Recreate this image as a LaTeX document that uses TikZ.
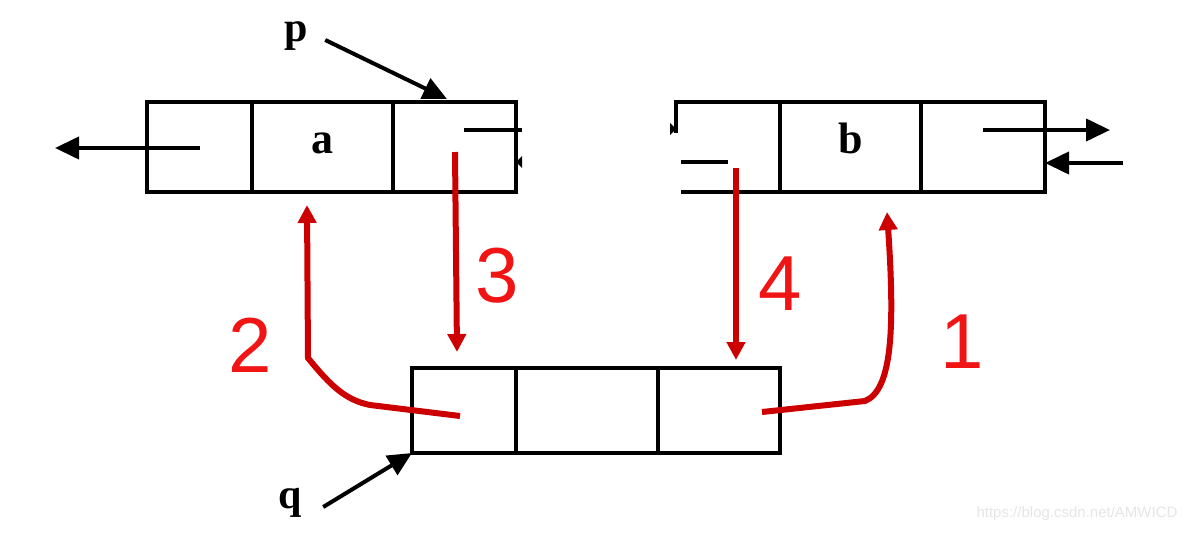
\documentclass[tikz,border=0pt]{standalone}
\usepackage{fontspec}
\setmainfont{Liberation Serif}
\newfontfamily\numfont{Liberation Sans}
\usepackage{xcolor}
\usetikzlibrary{positioning,arrows.meta}
\definecolor{linkred}{RGB}{204,0,0}
\definecolor{numred}{RGB}{240,20,20}

\begin{document}
\begin{tikzpicture}[x=1pt,y=-1pt,
    cell/.style={draw,line width=4pt,minimum height=90pt,inner sep=0pt,outer sep=0pt,
      text height=12pt,text depth=0pt,font=\bfseries\fontsize{44}{44}\selectfont},
    ptr/.style={line width=4pt,-{Triangle[length=24pt,width=22pt]}},
    relink/.style={draw=linkred,line width=6pt,-{Triangle[length=18pt,width=18pt]}},
    stepno/.style={text=numred,font=\numfont\fontsize{78}{78}\selectfont},
    ptrname/.style={font=\bfseries\fontsize{42}{42}\selectfont}]
    \useasboundingbox (0,0) rectangle (1192,533);
    % node holding a
    \node[cell,minimum width=105pt] (l1) at (199.5,147) {};
    \node[cell,minimum width=141pt] (l2) [right=0pt of l1] {a};
    \node[cell,minimum width=123pt] (l3) [right=0pt of l2] {};
    % node holding b, its left side partly gone
    \node[cell,draw=none,minimum width=104pt] (r1) at (728,147) {};
    \node[cell,minimum width=141pt] (r2) [right=0pt of r1] {b};
    \node[cell,minimum width=124pt] (r3) [right=0pt of r2] {};
    \draw[line width=4pt] ([yshift=-31pt]r1.north west) -- (r1.north west) -- (r1.north east);
    \draw[line width=4pt] ([xshift=5pt]r1.south west) -- (r1.south east);
    % new node
    \node[cell,minimum width=104pt,minimum height=85pt] (n1) at (464,410.5) {};
    \node[cell,minimum width=142pt,minimum height=85pt] (n2) [right=0pt of n1] {};
    \node[cell,minimum width=122pt,minimum height=85pt] (n3) [right=0pt of n2] {};
    % pointers p and q
    \node[ptrname] (p) at (296,36) {p};
    \node[ptrname] (q) at (290,503) {q};
    \coordinate (ptip) at (447,99);
    \draw[ptr] ([xshift=14pt,yshift=-4pt]p.east) -- (ptip);
    \draw[ptr] ([xshift=18pt,yshift=-4pt]q.east) -- (n1.south west);
    % old links
    \coordinate (lprev) at (55,148);
    \coordinate (lcut) at (522,130);
    \coordinate (rcut) at (681,162);
    \coordinate (rnext) at (1110,130);
    \coordinate (rback) at (1123,163);
    \draw[ptr] ([yshift=-1pt]l1.center) -- (lprev);
    \draw[line width=4pt] (464,130) -- (lcut);
    \draw[line width=4pt] (rcut) -- (728,162);
    \fill (l3.east |- 0,162) -- ++(6,-6) -- ++(0,12) -- cycle;
    \fill (r1.west |- 0,129) -- ++(-6,-6) -- ++(0,12) -- cycle;
    \draw[ptr] (983,130) -- (rnext);
    \draw[ptr] (rback) -- (r3.east |- rback);
    % new links, in the order drawn
    \draw[relink] (762,412) -- (865,401)
        .. controls (892,390) and (895,330) .. (887,212);
    \draw[relink] (460,416) -- (370,405)
        .. controls (345,400) and (330,385) .. (308,358) -- (307,205);
    \draw[relink] (455,152) -- (457,352);
    \draw[relink] (736,168) -- (736,360);
    \node[stepno] (s1) at (962,342) {1};
    \node[stepno] (s2) at (250,345) {2};
    \node[stepno] (s3) at (497,276) {3};
    \node[stepno] (s4) at (780,284) {4};
    % watermark
    \node[text=black!10,font=\numfont\fontsize{15}{15}\selectfont] (mark) at (1077,514)
        {https://blog.csdn.net/AMWICD};
\end{tikzpicture}
\end{document}
